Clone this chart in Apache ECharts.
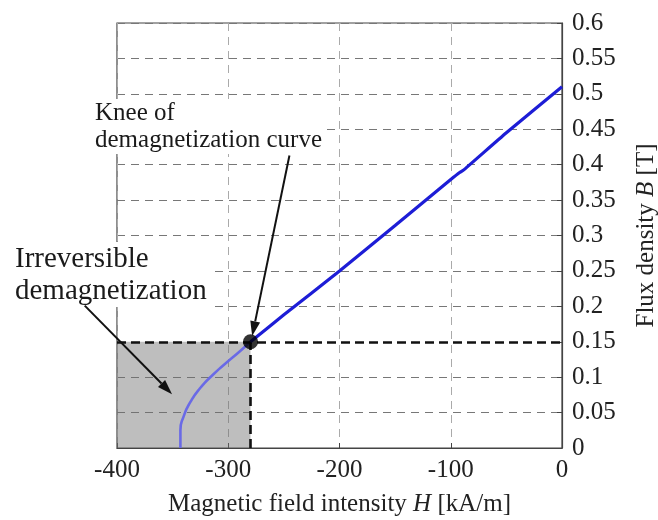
<!DOCTYPE html>
<html><head><meta charset="utf-8">
<script src="https://cdn.jsdelivr.net/npm/echarts@6/dist/echarts.min.js"></script>
<style>html,body{margin:0;padding:0;background:#fff}#c{width:658px;height:520px}</style>
</head><body><div id="c"></div>
<script>
// ---- data ----
const xMin = -400, xMax = 0, xStep = 100;
const yMin = 0, yMax = 0.6, yStep = 0.05;
const mainCurve = [[-280,0.15],[-250,0.188],[-200,0.250],[-150,0.314],[-100,0.379],[-92,0.389],[-88,0.393],[-50,0.445],[0,0.51]];
const lowerCurve = [[-280,0.15],[-290,0.136],[-302,0.120],[-314,0.103],[-325,0.085],[-334,0.065],[-340,0.045],[-343,0.025],[-343,0]];
const knee = [-280, 0.15];
const shadedFrom = [-400, 0];
const shadedTo = [-280, 0.15];
const kneeArrow = [[-245, 0.413], [-278.5, 0.158]];
const irrevArrow = [[-429, 0.201], [-350.5, 0.076]];
const kneeText = 'Knee of\ndemagnetization curve';
const irrevText = 'Irreversible\ndemagnetization';
const xName = 'Magnetic field intensity {i|H} [kA/m]';
const yName = 'Flux density {i|B} [T]';

const serif = '"Liberation Serif","Times New Roman",serif';
const chart = echarts.init(document.getElementById('c'), null, {renderer:'canvas'});
const option = {
  animation: false,
  backgroundColor: '#fff',
  grid: {left:117, right:96, top:23, bottom:72, outerBoundsMode:'none', containLabel:false, show:true, borderColor:'#444', borderWidth:1.2, backgroundColor:'transparent'},
  xAxis: {
    type:'value', min:xMin, max:xMax, interval:xStep,
    axisLine:{show:true, onZero:false, lineStyle:{color:'#444', width:1.2}},
    axisTick:{show:true, inside:true, length:5, lineStyle:{color:'#444'}},
    axisLabel:{fontFamily:serif, fontSize:25, color:'#222', margin:10},
    splitLine:{show:true, lineStyle:{color:'#aaa', type:[8,6], width:1}},
    name:xName, nameLocation:'middle', nameGap:44,
    nameTextStyle:{fontFamily:serif, fontSize:25, color:'#222', rich:{i:{fontFamily:serif, fontSize:25, fontStyle:'italic', color:'#222'}}}
  },
  yAxis: {
    type:'value', position:'right', min:yMin, max:yMax, interval:yStep,
    axisLine:{show:true, onZero:false, lineStyle:{color:'#444', width:1.2}},
    axisTick:{show:true, inside:true, length:5, lineStyle:{color:'#444'}},
    axisLabel:{fontFamily:serif, fontSize:25, color:'#222', margin:10},
    splitLine:{show:true, lineStyle:{color:'#777', type:[8,6], width:1}},
    name:yName, nameLocation:'middle', nameGap:72,
    nameTextStyle:{fontFamily:serif, fontSize:25, color:'#222', rich:{i:{fontFamily:serif, fontSize:25, fontStyle:'italic', color:'#222'}}}
  },
  series: [
    {
      type:'line', data:[], z:1, silent:true,
      markArea:{silent:true, itemStyle:{color:'rgba(110,110,110,0.45)'}, data:[[{coord:shadedFrom},{coord:shadedTo}]]}
    },
    {
      type:'line', data:[], z:3, silent:true,
      markLine:{silent:true, symbol:['none','none'], label:{show:false},
        lineStyle:{color:'#111', width:2.6, type:[9,5]},
        data:[
          [{coord:[shadedFrom[0], shadedTo[1]]},{coord:[xMax, shadedTo[1]]}],
          [{coord:[shadedTo[0], shadedFrom[1]]},{coord:[shadedTo[0], shadedTo[1]]}]
        ]}
    },
    {type:'line', data:lowerCurve, smooth:0.6, showSymbol:false, z:4, lineStyle:{color:'#6a6ae6', width:2.6}},
    {type:'line', data:mainCurve, smooth:0.2, showSymbol:false, z:5, lineStyle:{color:'#1d1dd6', width:3.2}},
    {type:'scatter', data:[knee], symbolSize:15, z:6, itemStyle:{color:'#000'}}
  ]
};
chart.setOption(option);

function arrowGraphic(pair) {
  const a = chart.convertToPixel({gridIndex:0}, pair[0]);
  const b = chart.convertToPixel({gridIndex:0}, pair[1]);
  const dx = b[0]-a[0], dy = b[1]-a[1];
  const len = Math.sqrt(dx*dx+dy*dy), ux = dx/len, uy = dy/len;
  const hl = 15, hw = 5;
  const base = [b[0]-ux*hl, b[1]-uy*hl];
  const px = -uy, py = ux;
  return [
    {type:'line', z:200, shape:{x1:a[0], y1:a[1], x2:base[0], y2:base[1]}, style:{stroke:'#111', lineWidth:2}},
    {type:'polygon', z:200, shape:{points:[b, [base[0]+px*hw, base[1]+py*hw], [base[0]-px*hw, base[1]-py*hw]]}, style:{fill:'#111'}}
  ];
}
const g = [];
g.push({type:'text', z:150, left:93, top:99, style:{text:kneeText, font:'25px '+serif, fill:'#1a1a1a', lineHeight:27, backgroundColor:'#fff', padding:[1,3,0,2]}});
g.push({type:'text', z:150, left:12, top:242, style:{text:irrevText, font:'29px '+serif, fill:'#1a1a1a', lineHeight:32, backgroundColor:'#fff', padding:[1,6,0,3]}});
g.push(...arrowGraphic(kneeArrow), ...arrowGraphic(irrevArrow));
chart.setOption({graphic:g});
</script></body></html>
